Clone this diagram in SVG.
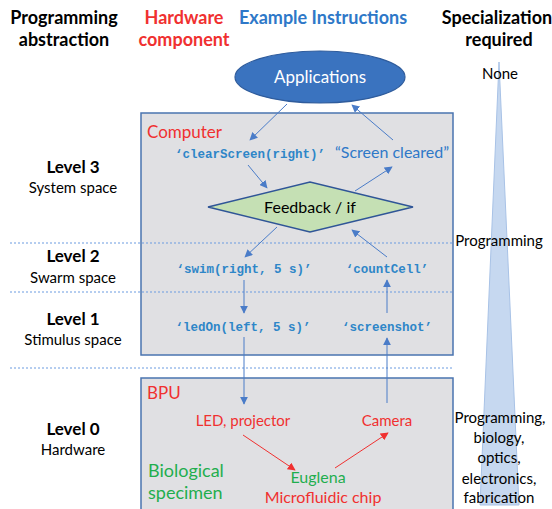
<svg xmlns="http://www.w3.org/2000/svg" width="552" height="509" viewBox="0 0 552 509">
<defs>
<style>
text{font-family:Lato,"Open Sans","Liberation Sans",sans-serif;}
.hd{font-weight:bold;font-size:18px;text-anchor:middle;}
.lvl{font-weight:bold;font-size:17px;text-anchor:middle;fill:#000;}
.sub{font-size:15px;text-anchor:middle;fill:#000;}
.code{font-family:"Liberation Mono","DejaVu Sans Mono",monospace;font-weight:bold;font-size:12.5px;fill:#2e86c8;text-anchor:middle;}
.red{fill:#f03030;}
.grn{fill:#1fae4e;}
.spec{font-size:15px;text-anchor:middle;fill:#000;}
.dot{stroke:#6a9be0;stroke-width:1;stroke-dasharray:2 2;fill:none;}
.ar{stroke:#4a7cc8;stroke-width:1;fill:none;marker-end:url(#ab);}
.arr{stroke:#f03030;stroke-width:1;fill:none;marker-end:url(#rb);}
.box{fill:#e0e0e3;stroke:#4a74b0;stroke-width:1.5;}
</style>
<marker id="ab" viewBox="0 0 10 10" refX="9" refY="5" markerWidth="8" markerHeight="8" orient="auto" markerUnits="userSpaceOnUse"><path d="M0,0 L10,5 L0,10 z" fill="#4a7cc8"/></marker>
<marker id="rb" viewBox="0 0 10 10" refX="9" refY="5" markerWidth="8" markerHeight="8" orient="auto" markerUnits="userSpaceOnUse"><path d="M0,0 L10,5 L0,10 z" fill="#f03030"/></marker>
</defs>
<rect width="552" height="509" fill="#fff"/>

<g id="headers">
<text class="hd" x="64" y="24" fill="#000">Programming</text>
<text class="hd" x="64" y="46" fill="#000">abstraction</text>
<text class="hd" x="184" y="24" fill="#f03030">Hardware</text>
<text class="hd" x="184" y="46" fill="#f03030">component</text>
<text class="hd" x="323" y="24" fill="#2e78c8">Example Instructions</text>
<text class="hd" x="497" y="24" fill="#000" font-size="17">Specialization</text>
<text class="hd" x="499" y="46" fill="#000">required</text>
</g>

<g id="levels">
<text class="lvl" x="73" y="173">Level 3</text>
<text class="sub" x="73" y="193">System space</text>
<text class="lvl" x="73" y="262">Level 2</text>
<text class="sub" x="73" y="283">Swarm space</text>
<text class="lvl" x="73" y="325">Level 1</text>
<text class="sub" x="73" y="345">Stimulus space</text>
<text class="lvl" x="73" y="435">Level 0</text>
<text class="sub" x="73" y="455">Hardware</text>
</g>

<g id="specialization">
<polygon points="499,62 519,505 480,505" fill="#c6d8f0" stroke="#a8c2e6" stroke-width="1"/>
<text class="spec" x="500" y="79">None</text>
<text class="spec" x="499" y="246">Programming</text>
<text class="spec" x="500" y="423">Programming,</text>
<text class="spec" x="499" y="443">biology,</text>
<text class="spec" x="499" y="463">optics,</text>
<text class="spec" x="499" y="484">electronics,</text>
<text class="spec" x="499" y="503">fabrication</text>
</g>

<g id="computer">
<rect class="box" x="141" y="113" width="312" height="242"/>
<text x="147" y="138" font-size="17" class="red">Computer</text>
</g>

<g id="bpu">
<rect class="box" x="141" y="378" width="312" height="140"/>
<text x="147" y="399" font-size="17" class="red">BPU</text>
<text x="148" y="477" font-size="18" class="grn">Biological</text>
<text x="148" y="499" font-size="18" class="grn">specimen</text>
</g>

<g id="dividers">
<line class="dot" x1="10" y1="243" x2="452" y2="243"/>
<line class="dot" x1="10" y1="292" x2="452" y2="292"/>
<line class="dot" x1="10" y1="368" x2="452" y2="368"/>
</g>

<g id="applications">
<ellipse cx="320" cy="77" rx="85" ry="26" fill="#3a73bf" stroke="#2f5c9c" stroke-width="1.2"/>
<text x="320" y="83" font-size="17" fill="#fff" text-anchor="middle">Applications</text>
</g>

<g id="feedback">
<polygon points="208,207 310,182 413,207 310,232" fill="#c5e0b4" stroke="#2f5597" stroke-width="1.5"/>
<text x="310" y="213" font-size="16" fill="#000" text-anchor="middle">Feedback / if</text>
</g>

<g id="clearScreen"><text class="code" x="250" y="158">‘clearScreen(right)’</text></g>
<g id="screenCleared"><text x="392" y="158" font-size="16" fill="#2e78c8" text-anchor="middle">“Screen cleared”</text></g>
<g id="swim"><text class="code" x="244" y="273">‘swim(right, 5 s)’</text></g>
<g id="countCell"><text class="code" x="387" y="273">‘countCell’</text></g>
<g id="ledOn"><text class="code" x="243" y="331">‘ledOn(left, 5 s)’</text></g>
<g id="screenshot"><text class="code" x="387" y="331">‘screenshot’</text></g>
<g id="led"><text x="243" y="426" font-size="15" class="red" text-anchor="middle">LED, projector</text></g>
<g id="camera"><text x="387" y="426" font-size="15" class="red" text-anchor="middle">Camera</text></g>
<g id="euglena">
<text x="318" y="483" font-size="16" class="grn" text-anchor="middle">Euglena</text>
<text x="323" y="503" font-size="16" class="red" text-anchor="middle">Microfluidic chip</text>
</g>

<g id="connectors">
<line class="ar" x1="287" y1="104" x2="250" y2="140"/>
<line class="ar" x1="393" y1="140" x2="352" y2="105"/>
<line class="ar" x1="248" y1="165" x2="267" y2="188"/>
<line class="ar" x1="355" y1="191" x2="392" y2="167"/>
<line class="ar" x1="277" y1="227" x2="245" y2="257"/>
<line class="ar" x1="387" y1="257" x2="352" y2="230"/>
<line class="ar" x1="244" y1="280" x2="244" y2="313"/>
<line class="ar" x1="387" y1="313" x2="387" y2="280"/>
<line class="ar" x1="244" y1="337" x2="244" y2="404"/>
<line class="ar" x1="387" y1="403" x2="387" y2="338"/>
<line class="arr" x1="243" y1="435" x2="295" y2="470"/>
<line class="arr" x1="335" y1="468" x2="388" y2="433"/>
</g>
</svg>
